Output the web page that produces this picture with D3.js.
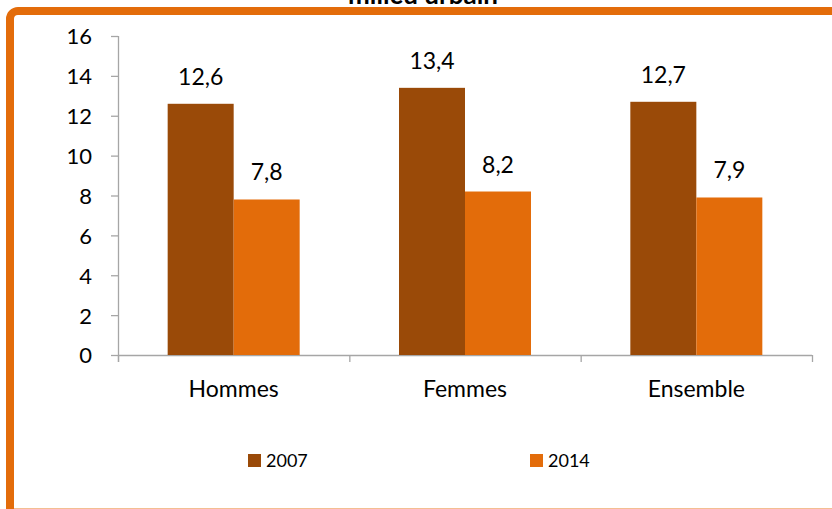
<!DOCTYPE html>
<html>
<head>
<meta charset="utf-8">
<script src="https://cdn.jsdelivr.net/npm/d3@7"></script>
<style>
  html, body { margin: 0; padding: 0; background: #fff; }
  svg { display: block; font-family: Lato, "Open Sans", sans-serif; }
</style>
</head>
<body>
<svg id="chart" width="832" height="509"></svg>
<script>
// Categories, series and axis ticks
const categories = ["Hommes", "Femmes", "Ensemble"];
const seriesNames = ["2007", "2014"];
const values2007 = [12.6, 13.4, 12.7];
const values2014 = [7.8, 8.2, 7.9];
const yTicks = [0, 2, 4, 6, 8, 10, 12, 14, 16];
const title = "milieu urbain";

const colors = { "2007": "#9A4A08", "2014": "#E36C0A" };
const seriesValues = { "2007": values2007, "2014": values2014 };

const svg = d3.select("#chart");

// Frame: thick orange top/left edges, running past the bottom of the view
svg.append("rect")
  .attr("x", 10).attr("y", 11)
  .attr("width", 840).attr("height", 540)
  .attr("rx", 8).attr("ry", 8)
  .attr("fill", "#fff")
  .attr("stroke", "#E36C0A")
  .attr("stroke-width", 8);
// thin pale bottom edge
svg.append("line")
  .attr("x1", 14).attr("x2", 832)
  .attr("y1", 508.5).attr("y2", 508.5)
  .attr("stroke", "#F4BE92")
  .attr("stroke-width", 1);

// Title (partly above the frame)
svg.append("text")
  .attr("x", 423).attr("y", 4)
  .attr("text-anchor", "middle")
  .attr("font-weight", "bold")
  .attr("font-size", 26)
  .attr("fill", "#000")
  .text(title);

const plot = { left: 118, right: 812, top: 36, bottom: 355 };

const x0 = d3.scaleBand()
  .domain(categories)
  .range([plot.left, plot.right])
  .paddingInner(0)
  .paddingOuter(0);

const groupWidth = 132;
const x1 = d3.scaleBand()
  .domain(seriesNames)
  .range([0, groupWidth]);

const y = d3.scaleLinear()
  .domain([0, 16])
  .range([plot.bottom, plot.top]);

const axisColor = "#A6A6A6";

// Y axis
const yAxis = svg.append("g")
  .attr("transform", `translate(${plot.left},0)`)
  .call(d3.axisLeft(y).tickValues(yTicks).tickSize(7).tickSizeOuter(0).tickPadding(19));
yAxis.select(".domain").attr("stroke", axisColor).attr("stroke-width", 1.3)
  .attr("d", `M0.5,${plot.top}V${plot.bottom + 7}`);
yAxis.selectAll(".tick line").attr("stroke", axisColor).attr("stroke-width", 1.3);
yAxis.selectAll(".tick text")
  .attr("font-family", "Lato, 'Open Sans', sans-serif")
  .attr("font-size", 22)
  .attr("fill", "#000")
  .attr("dy", "0.36em");

// X axis
const xAxisG = svg.append("g").attr("transform", `translate(0,${plot.bottom})`);
xAxisG.append("line")
  .attr("x1", plot.left).attr("x2", plot.right)
  .attr("y1", 0.5).attr("y2", 0.5)
  .attr("stroke", axisColor).attr("stroke-width", 1.3);
const boundaries = categories.map(c => x0(c)).concat([plot.right]);
xAxisG.selectAll("line.tk")
  .data(boundaries)
  .join("line")
  .attr("class", "tk")
  .attr("x1", d => d + 0.5).attr("x2", d => d + 0.5)
  .attr("y1", 0).attr("y2", 7)
  .attr("stroke", axisColor).attr("stroke-width", 1.3);
xAxisG.selectAll("text.cat")
  .data(categories)
  .join("text")
  .attr("class", "cat")
  .attr("x", d => x0(d) + x0.bandwidth() / 2)
  .attr("y", 42)
  .attr("text-anchor", "middle")
  .attr("font-size", 23)
  .attr("fill", "#000")
  .text(d => d);

// Bars
const rows = categories.map((c, i) => ({
  category: c,
  items: seriesNames.map(s => ({ series: s, value: seriesValues[s][i] }))
}));

const groups = svg.selectAll("g.group")
  .data(rows)
  .join("g")
  .attr("class", "group")
  .attr("transform", d => `translate(${x0(d.category) + (x0.bandwidth() - groupWidth) / 2},0)`);

groups.selectAll("rect")
  .data(d => d.items)
  .join("rect")
  .attr("x", d => x1(d.series))
  .attr("width", x1.bandwidth())
  .attr("y", d => y(d.value))
  .attr("height", d => y(0) - y(d.value))
  .attr("fill", d => colors[d.series]);

groups.selectAll("text.val")
  .data(d => d.items)
  .join("text")
  .attr("class", "val")
  .attr("x", d => x1(d.series) + x1.bandwidth() / 2)
  .attr("y", d => y(d.value) - 19)
  .attr("text-anchor", "middle")
  .attr("font-size", 23)
  .attr("fill", "#000")
  .text(d => d3.format(".1f")(d.value).replace(".", ","));

// Legend
const legendX = [248, 530];
const legend = svg.selectAll("g.legend")
  .data(seriesNames)
  .join("g")
  .attr("class", "legend")
  .attr("transform", (d, i) => `translate(${legendX[i]},454)`);
legend.append("rect")
  .attr("width", 13).attr("height", 13)
  .attr("fill", d => colors[d]);
legend.append("text")
  .attr("x", 18).attr("y", 13)
  .attr("font-size", 18)
  .attr("fill", "#000")
  .text(d => d);
</script>
</body>
</html>
